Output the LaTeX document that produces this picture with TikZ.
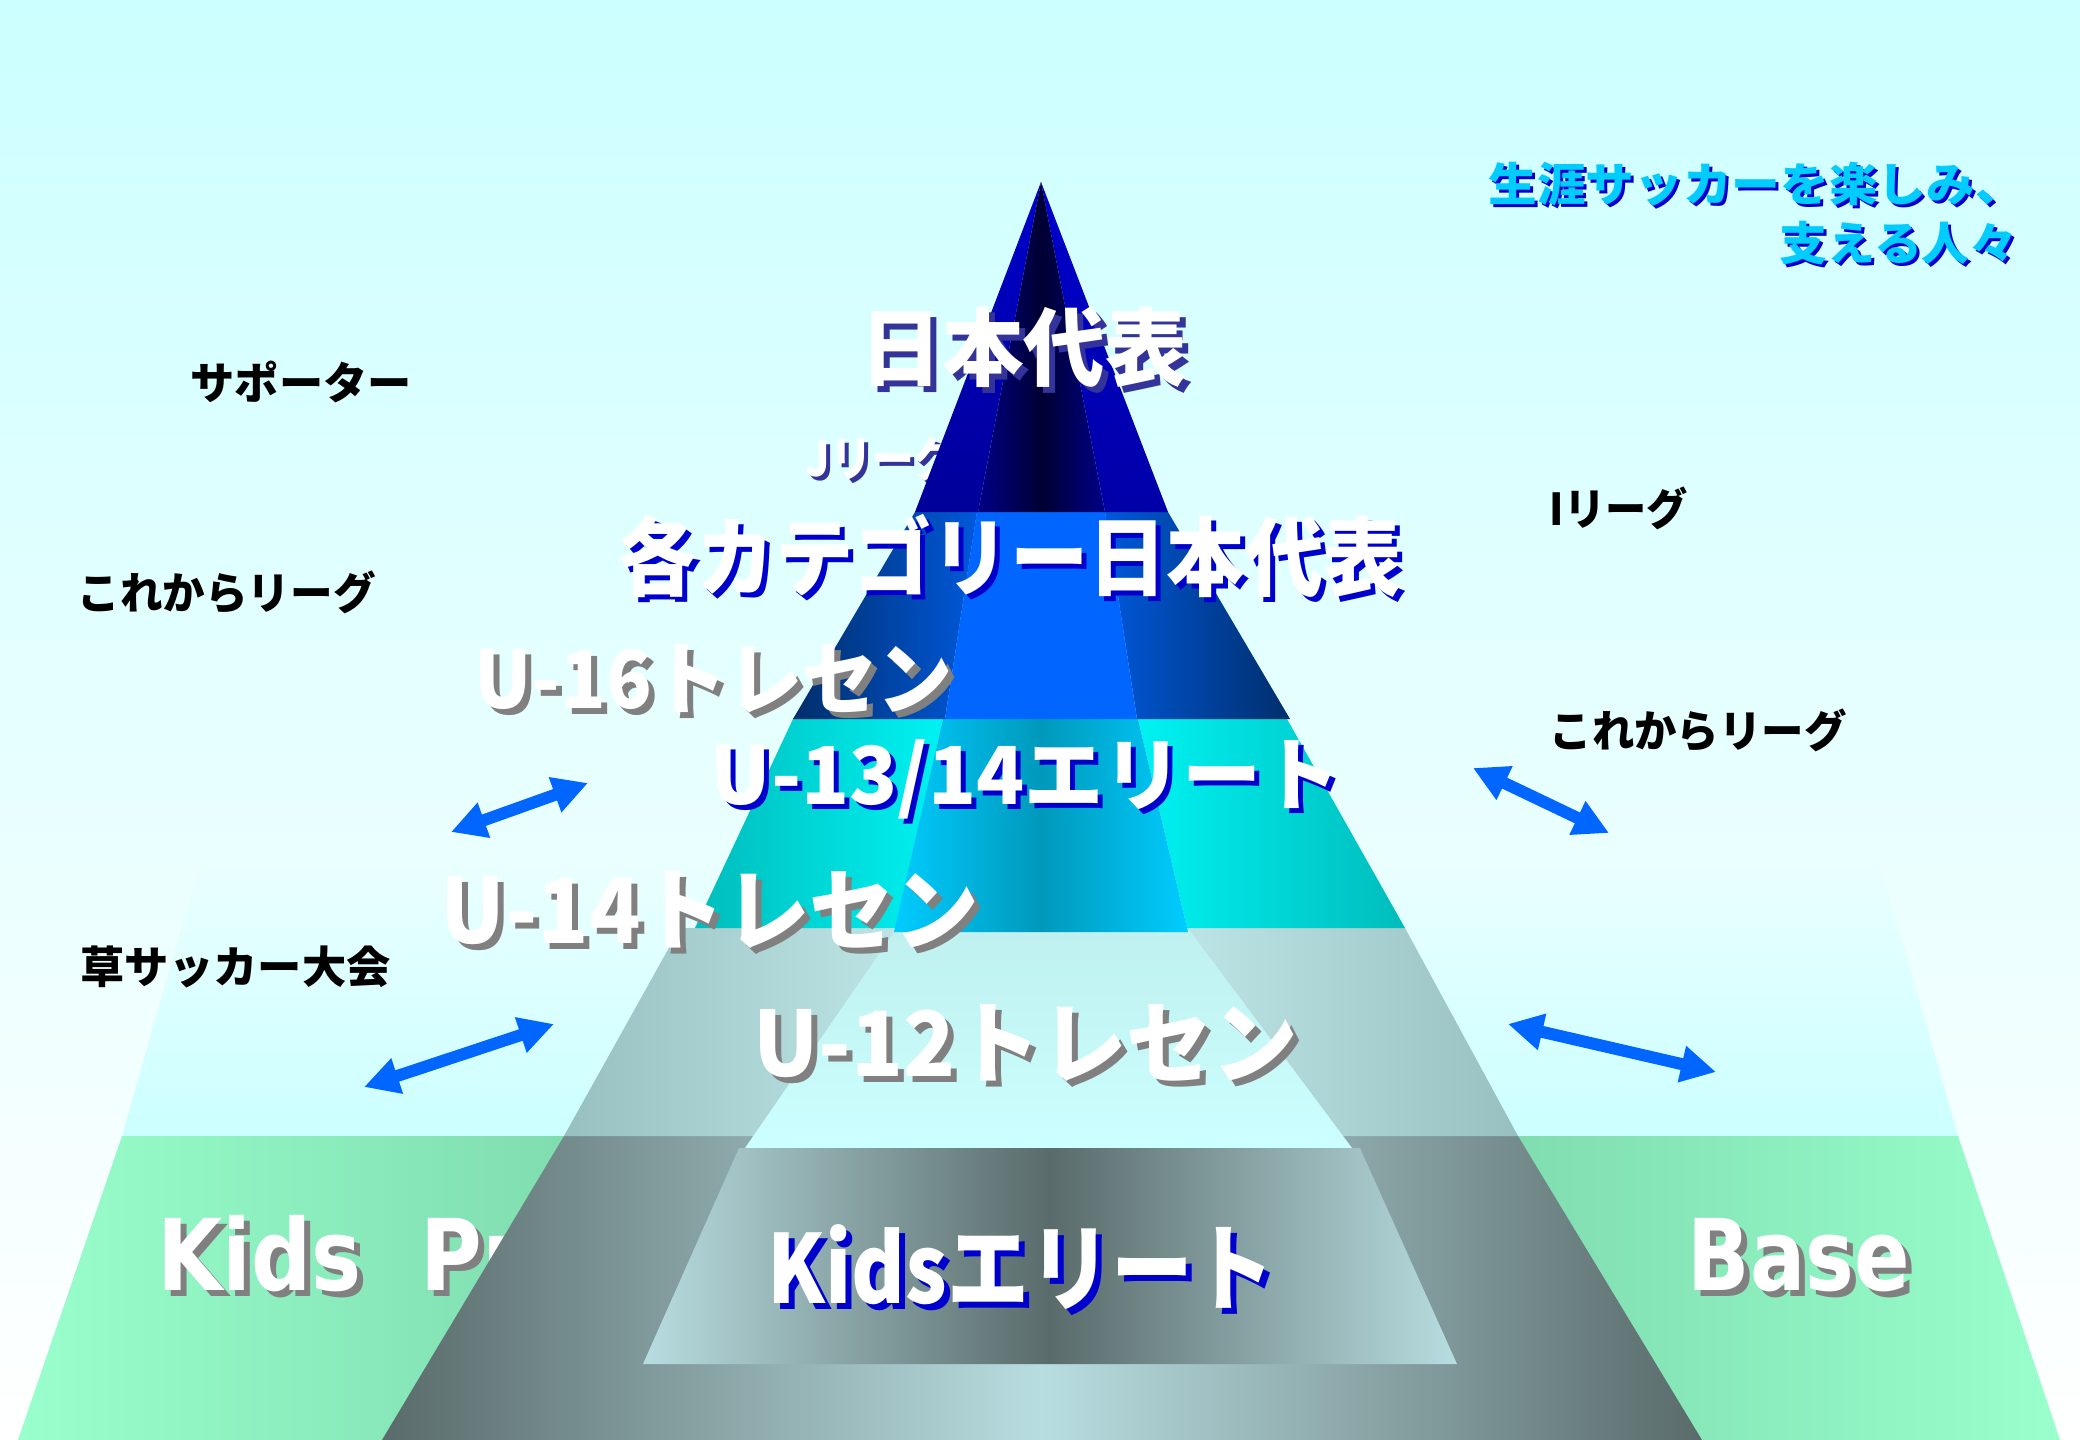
\documentclass[tikz,border=0pt]{standalone}
\usepackage{fontspec}
\usepackage{graphicx}
\usetikzlibrary{arrows.meta}
\newfontfamily\jpfont{Noto Sans CJK JP}
\newfontfamily\dvfont{DejaVu Sans}
\newdimen\pxu \pxu=0.3pt
\newcommand{\fitx}[3]{\resizebox{#1\pxu}{\height}{\fontsize{#2}{#2}\selectfont #3}}
\newcommand{\shtext}[9]{%
  \node[lbl, text=#7] (#1s) at (#2+#8,#3+#8) {\fitx{#4}{#5}{#9}};
  \node[lbl, text=#6] (#1) at (#2,#3) {\fitx{#4}{#5}{#9}};}
\definecolor{bgtop}{HTML}{CCFFFF}
\definecolor{cbandtop}{HTML}{EAFFFF}
\definecolor{cbandbot}{HTML}{CCFFFF}
\definecolor{greenout}{HTML}{99FFCC}
\definecolor{greenmid}{HTML}{6ABF97}
\definecolor{gdark}{HTML}{5A6B6B}
\definecolor{glight}{HTML}{B8DDE0}
\definecolor{fourout}{HTML}{98C0C0}
\definecolor{fourmid}{HTML}{CCF4F4}
\definecolor{fourintop}{HTML}{C0F0F0}
\definecolor{fourinbot}{HTML}{CCFFFF}
\definecolor{threeout}{HTML}{00BCBC}
\definecolor{threein}{HTML}{00F2F2}
\definecolor{threeedge}{HTML}{00CCFF}
\definecolor{threemid}{HTML}{0099BB}
\definecolor{twoout}{HTML}{002E6B}
\definecolor{twoin}{HTML}{0058DA}
\definecolor{twomid}{HTML}{0066FF}
\definecolor{onetop}{HTML}{0000CC}
\definecolor{onebotl}{HTML}{000099}
\definecolor{onebotr}{HTML}{0000A8}
\definecolor{oneedge}{HTML}{000088}
\definecolor{onemid}{HTML}{000033}
\definecolor{arrblue}{HTML}{0066FF}
\definecolor{sblue}{HTML}{0000CC}
\definecolor{slate}{HTML}{333399}
\definecolor{sgray}{HTML}{808080}
\definecolor{skycol}{HTML}{00CCFF}
\tikzset{
  lbl/.style={inner sep=0pt, anchor=west, font=\jpfont\bfseries},
  blk/.style={lbl, text=black},
  dblarr/.style={draw=arrblue, line width=3.6pt,
    {Triangle[length=10.5pt,width=10.5pt]}-{Triangle[length=10.5pt,width=10.5pt]}},
}
\begin{document}
\begin{tikzpicture}[x=0.3pt,y=-0.3pt]
\useasboundingbox (0,0) rectangle (2080,1440);
% background
\shade[top color=bgtop, bottom color=white] (0,0) rectangle (2080,1440);
% outer base bands
\shade[top color=cbandtop, bottom color=cbandbot] (200,863) -- (1880,863) -- (1958,1136) -- (122,1136) -- cycle;
\shade[left color=greenout, right color=greenout, middle color=greenmid] (122,1136) -- (1958,1136) -- (2060,1440) -- (18,1440) -- cycle;
% Kids Pr text (behind pyramid)
\node[inner sep=0pt, anchor=base west, font=\dvfont\bfseries, text=sgray] (kps) at (163,1296) {\scalebox{0.85}[1]{\fontsize{29.7}{29.7}\selectfont Kids~~Pr}};
\node[inner sep=0pt, anchor=base west, font=\dvfont\bfseries, text=white] (kp) at (157,1290) {\scalebox{0.85}[1]{\fontsize{29.7}{29.7}\selectfont Kids~~Pr}};
% band 5
\shade[left color=gdark, right color=gdark, middle color=glight] (564,1136) -- (1518,1136) -- (1702,1440) -- (382,1440) -- cycle;
% band 4
\shade[left color=fourout, right color=fourout, middle color=fourmid] (680,928) -- (1405,928) -- (1518,1136) -- (564,1136) -- cycle;
\shade[top color=fourintop, bottom color=fourinbot] (895,931) -- (1190,931) -- (1352,1148) -- (745,1148) -- cycle;
% Kids elite
\shade[left color=glight, right color=glight, middle color=gdark] (739,1148) -- (1360,1148) -- (1457,1364) -- (643,1364) -- cycle;
% band 3
\shade[left color=threeout, right color=threein] (793,719) -- (943,719) -- (896,928) -- (695,928) -- cycle;
\shade[left color=threein, right color=threeout] (1138,719) -- (1287,719) -- (1405,928) -- (1187,928) -- cycle;
\shade[left color=threeedge, right color=threeedge, middle color=threemid] (943,719) -- (1138,719) -- (1188,932) -- (894,932) -- cycle;
% band 2
\shade[left color=twoout, right color=twoin] (915,512) -- (977,512) -- (945,719) -- (793,719) -- cycle;
\shade[left color=twoin, right color=twoout] (1105,512) -- (1168,512) -- (1290,719) -- (1137,719) -- cycle;
\fill[twomid] (977,511) -- (1105,511) -- (1137,719) -- (945,719) -- cycle;
% J league text (behind top triangle)
\shtext{jl}{805}{458}{150}{14.4}{white}{slate}{4}{Jリーグ}
% top triangle
\shade[top color=onetop, bottom color=onebotl] (1041,182) -- (978,512) -- (915,512) -- cycle;
\shade[top color=onetop, bottom color=onebotr] (1041,182) -- (1168,512) -- (1105,512) -- cycle;
\shade[left color=oneedge, right color=oneedge, middle color=onemid] (1041,182) -- (1105,512) -- (978,512) -- cycle;
% arrows
\coordinate (a1l) at (451,832); \coordinate (a1r) at (588,783);
\coordinate (a2l) at (364,1087); \coordinate (a2r) at (554,1024);
\coordinate (a3l) at (1473,768); \coordinate (a3r) at (1609,833);
\coordinate (a4l) at (1508,1024); \coordinate (a4r) at (1716,1072);
\draw[dblarr] (a1l) -- (a1r);
\draw[dblarr] (a2l) -- (a2r);
\draw[dblarr] (a3l) -- (a3r);
\draw[dblarr] (a4l) -- (a4r);
% pyramid texts
\shtext{nd}{860}{347}{326}{25.5}{white}{slate}{6}{日本代表}
\shtext{kc}{618}{556}{783}{25.8}{white}{sblue}{5}{各カテゴリー日本代表}
\shtext{ua}{474}{679}{478}{24}{white}{sgray}{6}{U-16トレセン}
\shtext{ub}{710}{779}{630}{24}{white}{sblue}{5}{U-13/14エリート}
\shtext{uc}{440}{910}{538}{27}{white}{sgray}{6}{U-14トレセン}
\shtext{ud}{753}{1043}{544}{27}{white}{sgray}{6}{U-12トレセン}
\shtext{ke}{767}{1267}{507}{28.5}{white}{sblue}{6}{Kidsエリート}
% Base
\node[inner sep=0pt, anchor=base west, font=\dvfont\bfseries, text=sgray] (bss) at (1693,1296) {\resizebox{222\pxu}{\height}{\fontsize{29.7}{29.7}\selectfont Base}};
\node[inner sep=0pt, anchor=base west, font=\dvfont\bfseries, text=white] (bs) at (1687,1290) {\resizebox{222\pxu}{\height}{\fontsize{29.7}{29.7}\selectfont Base}};
% top right text
\shtext{sa}{1488}{184}{535}{13.8}{skycol}{sblue}{3}{生涯サッカーを楽しみ、}
\shtext{sb}{1779}{243}{238}{13.8}{skycol}{sblue}{3}{支える人々}
% black labels
\node[blk] (sup) at (190,382) {\fitx{221}{13.2}{サポーター}};
\node[blk] (kl1) at (77,592) {\fitx{298}{13.2}{これからリーグ}};
\node[blk] (kusa) at (80,967) {\fitx{310}{13.2}{草サッカー大会}};
\node[blk] (il) at (1549,508) {\fitx{138}{13.2}{Iリーグ}};
\node[blk] (kl2) at (1549,730) {\fitx{297}{13.2}{これからリーグ}};
\end{tikzpicture}
\end{document}
